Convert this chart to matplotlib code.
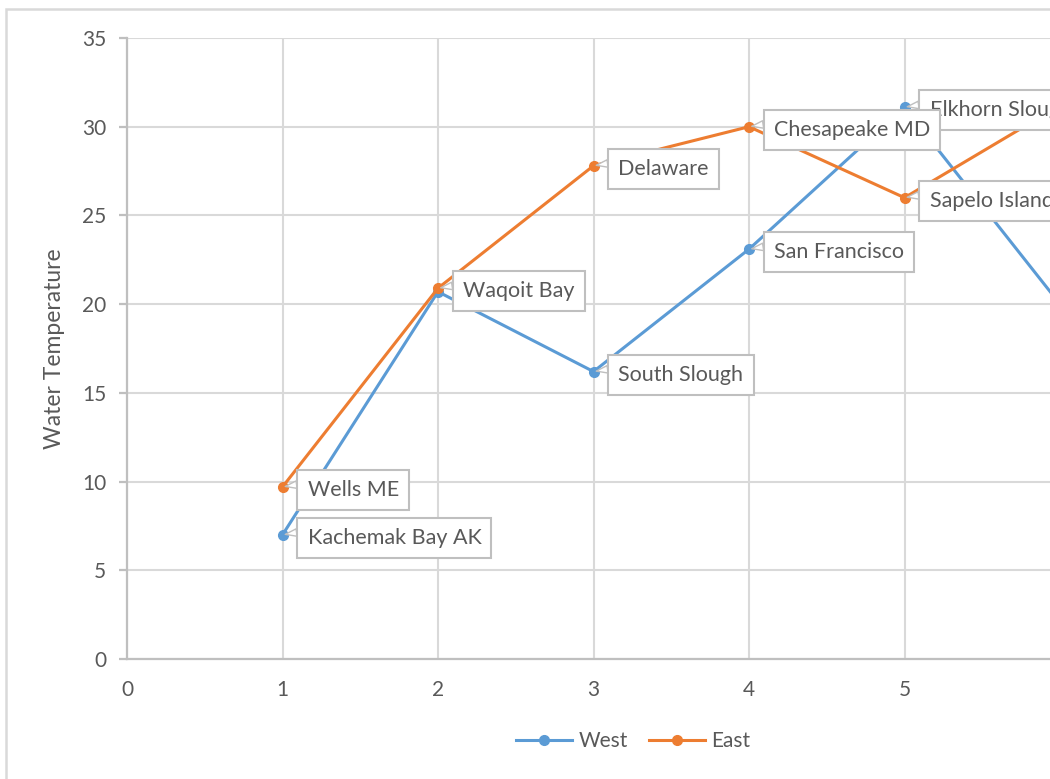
"""Water temperature by estuary site, West vs East coast, Excel-style scatter."""

import matplotlib

matplotlib.use("Agg")
import matplotlib.pyplot as plt
from matplotlib.lines import Line2D
from matplotlib.patches import Rectangle

plt.rcParams["font.family"] = ["Lato", "DejaVu Sans"]

# ----- data -----
SITES = [1, 2, 3, 4, 5, 6]
WEST_TEMP = [7.0, 20.7, 16.2, 23.1, 31.1, 20.0]
EAST_TEMP = [9.7, 20.9, 27.8, 30.0, 26.0, 31.2]
WEST_LABELS = ["Kachemak Bay AK", "", "South Slough",
               "San Francisco", "Elkhorn Slough", ""]
EAST_LABELS = ["Wells ME", "Waqoit Bay", "Delaware",
               "Chesapeake MD", "Sapelo Island", ""]
X_TICKS = [0, 1, 2, 3, 4, 5, 6, 7]
X_TICK_LABELS = ["0", "1", "2", "3", "4", "5", "", ""]

WEST_COLOR = "#5B9BD5"
EAST_COLOR = "#ED7D31"
TEXT_COLOR = "#595959"
GRID_COLOR = "#D9D9D9"
AXIS_COLOR = "#BFBFBF"
FS = 15
LABEL_FS = 15.5

fig = plt.figure(figsize=(10.5, 7.79), dpi=100)
W, H = 1050, 779
# plot area runs past the right edge of the picture (cropped chart)
ax = fig.add_axes([127 / W, (H - 659) / H, 1088.5 / W, 621 / H])
ax.set_xlim(0, 7)
ax.set_ylim(0, 35)
ax.set_xticks(X_TICKS, X_TICK_LABELS)
ax.set_yticks(range(0, 36, 5))

ax.grid(True, color=GRID_COLOR, linewidth=1.5)
ax.set_axisbelow(True)
for side in ("top", "right"):
    ax.spines[side].set_visible(False)
for side in ("left", "bottom"):
    ax.spines[side].set_color(AXIS_COLOR)
    ax.spines[side].set_linewidth(1.6)
ax.tick_params(axis="y", length=6, width=1.6, color=AXIS_COLOR,
               labelcolor=TEXT_COLOR, labelsize=FS, pad=9)
ax.tick_params(axis="x", length=0, labelcolor=TEXT_COLOR, labelsize=FS, pad=15)
ax.set_ylabel("Water Temperature", color=TEXT_COLOR, fontsize=16.5, labelpad=12)

ax.plot(SITES, WEST_TEMP, color=WEST_COLOR, lw=2.2, marker="o", ms=7,
        clip_on=False, zorder=3)
ax.plot(SITES, EAST_TEMP, color=EAST_COLOR, lw=2.2, marker="o", ms=7,
        clip_on=False, zorder=3)


def callout(x, y, text, z):
    if not text:
        return
    ax.annotate(
        text, xy=(x, y), xytext=(18, -2.2), textcoords="offset points",
        ha="left", va="center", fontsize=LABEL_FS, color=TEXT_COLOR, zorder=z,
        annotation_clip=False,
        bbox=dict(boxstyle="square,pad=0.47", fc="white", ec=AXIS_COLOR, lw=1.5),
        arrowprops=dict(arrowstyle="wedge,tail_width=0.35,shrink_factor=0.5",
                        fc="white", ec=AXIS_COLOR, lw=1.0,
                        relpos=(0.0, 0.85), shrinkA=0, shrinkB=2),
    )


for x, y, t in zip(SITES, WEST_TEMP, WEST_LABELS):
    callout(x, y, t, 5)
for x, y, t in zip(SITES, EAST_TEMP, EAST_LABELS):
    callout(x, y, t, 6)

# chart area border (also cropped on the right and bottom)
fig.patches.append(Rectangle((6 / W, -0.1), 2.0, 1.1 - 9 / H, fill=False,
                             ec=GRID_COLOR, lw=1.8, transform=fig.transFigure))

handles = [
    Line2D([], [], color=WEST_COLOR, lw=2.2, marker="o", ms=7),
    Line2D([], [], color=EAST_COLOR, lw=2.2, marker="o", ms=7),
]
fig.legend(handles, ["West", "East"], loc="center", ncol=2, frameon=False,
           bbox_to_anchor=(633 / W, 1 - 741 / H), fontsize=FS,
           labelcolor=TEXT_COLOR, handlelength=2.7, handletextpad=0.3,
           columnspacing=1.0)

fig.savefig("out.png", dpi=100)
